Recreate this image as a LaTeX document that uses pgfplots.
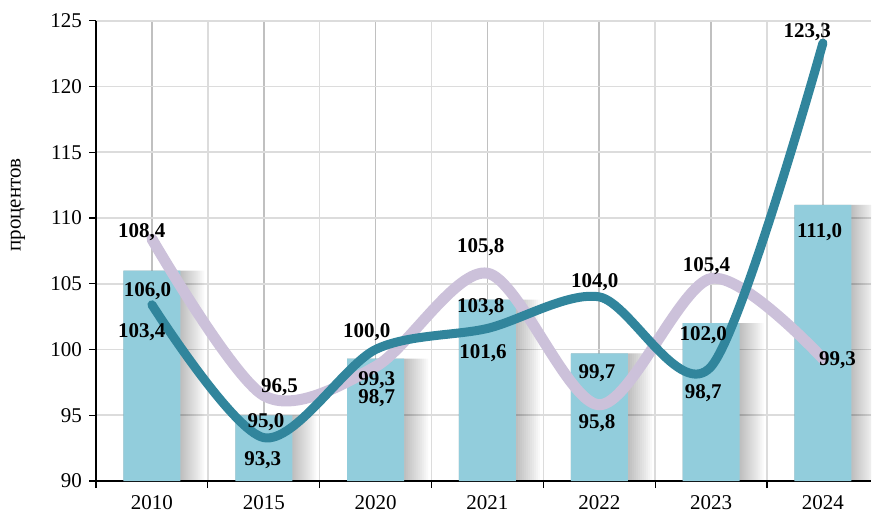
\documentclass[border=0pt]{standalone}
\usepackage{fontspec}
\setmainfont{Liberation Serif}
\usepackage{pgfplots}
\pgfplotsset{compat=1.18}
\definecolor{barblue}{HTML}{92CDDC}
\definecolor{tealline}{HTML}{31859C}
\definecolor{lav}{HTML}{CCC1DA}
\definecolor{gridlight}{HTML}{DCDCDC}
\definecolor{griddark}{HTML}{C0C0C0}
\pgfplotstableread{
x y
0 106.0
1 95.0
2 99.3
3 103.8
4 99.7
5 102.0
6 111.0
}\bars
\begin{document}
\begin{tikzpicture}[x=1pt,y=1pt]
\useasboundingbox (0,0) rectangle (436,258);
\begin{axis}[
  at={(48pt,17.5pt)}, anchor=south west,
  scale only axis, width=387.5pt, height=230.15pt,
  xmin=-0.5, xmax=6.43, ymin=90, ymax=125,
  axis x line*=bottom, axis y line*=left,
  x axis line style={-}, y axis line style={-},
  clip mode=individual,
  ytick={90,95,...,125},
  xtick={0,...,6},
  xticklabels={2010,2015,2020,2021,2022,2023,2024},
  minor xtick={-0.5,0.5,1.5,2.5,3.5,4.5,5.5},
  tick align=outside,
  major tick length=3.5pt, minor tick length=3.5pt,
  major x tick style={draw=none},
  ymajorgrids, xmajorgrids, xminorgrids,
  major y grid style={gridlight, line width=0.8pt},
  major x grid style={griddark, line width=0.8pt},
  minor x grid style={gridlight, line width=0.8pt},
  tick style={black, line width=0.6pt},
  axis line style={black, line width=0.6pt},
  ticklabel style={font=\fontsize{10.5}{12}\selectfont, text=black},
  /pgf/number format/assume math mode=true,
  shadowbar/.style={ybar, fill=black, draw=none, fill opacity=0.022},
]
% bar shadows (soft)
\addplot[shadowbar, bar width=29.5pt, bar shift=0.5pt] table {\bars};
\addplot[shadowbar, bar width=30.5pt, bar shift=1pt] table {\bars};
\addplot[shadowbar, bar width=31.5pt, bar shift=1.5pt] table {\bars};
\addplot[shadowbar, bar width=32.5pt, bar shift=2pt] table {\bars};
\addplot[shadowbar, bar width=33.5pt, bar shift=2.5pt] table {\bars};
\addplot[shadowbar, bar width=34.5pt, bar shift=3pt] table {\bars};
\addplot[shadowbar, bar width=35.5pt, bar shift=3.5pt] table {\bars};
\addplot[shadowbar, bar width=36.5pt, bar shift=4pt] table {\bars};
\addplot[shadowbar, bar width=37.5pt, bar shift=4.5pt] table {\bars};
\addplot[shadowbar, bar width=38.5pt, bar shift=5pt] table {\bars};
\addplot[shadowbar, bar width=39.5pt, bar shift=5.5pt] table {\bars};
\addplot[shadowbar, bar width=40.5pt, bar shift=6pt] table {\bars};
% bars
\addplot[ybar, bar width=28.5pt, fill=barblue, draw=none] table {\bars};
% lines
\addplot[lav, line width=5.5pt, smooth, line cap=round] coordinates {(0,108.4)(1,96.5)(2,98.7)(3,105.8)(4,95.8)(5,105.4)(6,99.3)};
\addplot[tealline, line width=4.5pt, smooth, line cap=round] coordinates {(0,103.4)(1,93.3)(2,100.0)(3,101.6)(4,104.0)(5,98.7)(6,123.3)};
% labels
\begin{scope}[every node/.style={font=\bfseries\fontsize{10.5}{12}\selectfont, text=black}]
\node at (axis cs:-0.09,108.9) {108,4};
\node at (axis cs:-0.04,104.4) {106,0};
\node at (axis cs:-0.09,101.3) {103,4};
\node at (axis cs:1.14,97.1) {96,5};
\node at (axis cs:1.02,94.5) {95,0};
\node at (axis cs:0.99,91.6) {93,3};
\node at (axis cs:1.92,101.3) {100,0};
\node at (axis cs:2.01,97.7) {99,3};
\node at (axis cs:2.01,96.3) {98,7};
\node at (axis cs:2.94,107.8) {105,8};
\node at (axis cs:2.94,103.2) {103,8};
\node at (axis cs:2.96,99.7) {101,6};
\node at (axis cs:3.96,105.1) {104,0};
\node at (axis cs:3.98,98.2) {99,7};
\node at (axis cs:3.98,94.4) {95,8};
\node at (axis cs:4.96,106.3) {105,4};
\node at (axis cs:4.93,101.1) {102,0};
\node at (axis cs:4.93,96.7) {98,7};
\node at (axis cs:5.86,124.1) {123,3};
\node at (axis cs:5.97,108.9) {111,0};
\node at (axis cs:6.13,99.2) {99,3};
\end{scope}
\end{axis}
\node[rotate=90, font=\fontsize{10.5}{12}\selectfont] at (9,155.5) {процентов};
\end{tikzpicture}
\end{document}
